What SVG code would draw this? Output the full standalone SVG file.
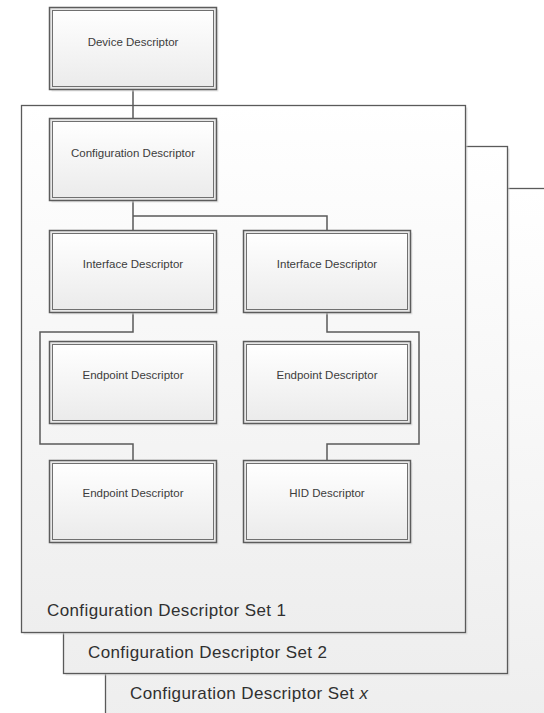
<svg xmlns="http://www.w3.org/2000/svg" width="544" height="713" viewBox="0 0 544 713">
  <defs>
    <linearGradient id="frameFill" x1="0" y1="0" x2="0" y2="1">
      <stop offset="0" stop-color="#ffffff"/>
      <stop offset="1" stop-color="#eeeeee"/>
    </linearGradient>
    <linearGradient id="boxFill" x1="0" y1="0" x2="0" y2="1">
      <stop offset="0" stop-color="#ffffff"/>
      <stop offset="1" stop-color="#ebebeb"/>
    </linearGradient>
    <!-- one descriptor box: shadow, outer double-line border, inner border -->
    <g id="box">
      <rect x="2" y="2" width="167" height="82" fill="#d9d9d9" opacity="0.6"/>
      <rect x="0" y="0" width="167" height="82" fill="#e8e8e8" stroke="#5c5c5c" stroke-width="1.5"/>
      <rect x="3" y="3" width="161" height="76" fill="url(#boxFill)" stroke="#707070" stroke-width="1"/>
    </g>
  </defs>
  <style>
    .frame { fill: url(#frameFill); stroke: #5a5a5a; stroke-width: 1.3; }
    .shadow { fill: #d6d6d6; opacity: 0.6; }
    .wire { fill: none; stroke: #5a5a5a; stroke-width: 1.5; }
    .label { font-family: "Liberation Sans", Arial, sans-serif; font-size: 11.5px; fill: #3c3c3c; text-anchor: middle; }
    .setlabel { font-family: "Liberation Sans", Arial, sans-serif; font-size: 17px; fill: #303030; }
  </style>

  <rect width="544" height="713" fill="#ffffff"/>

  <!-- stacked configuration sets, back to front -->
  <g id="set-x">
    <rect class="shadow" x="107.5" y="190.5" width="460" height="540"/>
    <rect class="frame" x="105.5" y="188.5" width="460" height="540"/>
    <text class="setlabel" x="130" y="699" textLength="238">Configuration Descriptor Set <tspan font-style="italic">x</tspan></text>
  </g>
  <g id="set-2">
    <rect class="shadow" x="65.5" y="148.5" width="444" height="527"/>
    <rect class="frame" x="63.5" y="146.5" width="444" height="527"/>
    <text class="setlabel" x="88" y="658" textLength="239">Configuration Descriptor Set 2</text>
  </g>
  <g id="set-1">
    <rect class="shadow" x="23.5" y="107.5" width="444" height="527"/>
    <rect class="frame" x="21.5" y="105.5" width="444" height="527"/>
    <text class="setlabel" x="47" y="616" textLength="239">Configuration Descriptor Set 1</text>
  </g>

  <!-- connectors -->
  <g id="connectors">
    <path class="wire" d="M133 89.5 V118"/>
    <path class="wire" d="M133 200 V230 M133 216 H327 V230"/>
    <path class="wire" d="M133 312 V332 H40 V444 H133 V460"/>
    <path class="wire" d="M327 312 V332 H419 V444 H327 V460"/>
  </g>

  <g id="device-descriptor">
    <use href="#box" x="49.5" y="7.5"/>
    <text class="label" x="133" y="45.5">Device Descriptor</text>
  </g>
  <g id="configuration-descriptor">
    <use href="#box" x="49.5" y="118.5"/>
    <text class="label" x="133" y="156.5">Configuration Descriptor</text>
  </g>
  <g id="interface-descriptor-1">
    <use href="#box" x="49.5" y="230.5"/>
    <text class="label" x="133" y="267.5">Interface Descriptor</text>
  </g>
  <g id="interface-descriptor-2">
    <use href="#box" x="243.5" y="230.5"/>
    <text class="label" x="327" y="267.5">Interface Descriptor</text>
  </g>
  <g id="endpoint-descriptor-1">
    <use href="#box" x="49.5" y="341.5"/>
    <text class="label" x="133" y="378.5">Endpoint Descriptor</text>
  </g>
  <g id="endpoint-descriptor-2">
    <use href="#box" x="243.5" y="341.5"/>
    <text class="label" x="327" y="378.5">Endpoint Descriptor</text>
  </g>
  <g id="endpoint-descriptor-3">
    <use href="#box" x="49.5" y="460.5"/>
    <text class="label" x="133" y="496.5">Endpoint Descriptor</text>
  </g>
  <g id="hid-descriptor">
    <use href="#box" x="243.5" y="460.5"/>
    <text class="label" x="327" y="496.5">HID Descriptor</text>
  </g>
</svg>
